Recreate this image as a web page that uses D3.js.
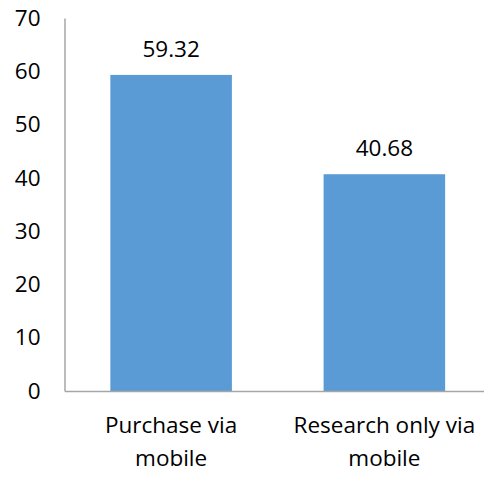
<!DOCTYPE html>
<html>
<head>
<meta charset="utf-8">
<script src="https://cdn.jsdelivr.net/npm/d3@7"></script>
<style>
  html, body { margin: 0; padding: 0; background: #fff; }
  svg text { font-family: "Open Sans", "DejaVu Sans", sans-serif; fill: #000; }
</style>
</head>
<body>
<svg id="chart" width="484" height="477"></svg>
<script>
// Share of mobile shoppers by behaviour
const categories = ["Purchase via mobile", "Research only via mobile"];
const categoryLines = [["Purchase via", "mobile"], ["Research only via", "mobile"]];
const values = [59.32, 40.68];
const yTicks = [0, 10, 20, 30, 40, 50, 60, 70];

const fontSize = 22.5;
const svg = d3.select("#chart");
const margin = { left: 64.5, top: 18, bottom: 391 };

const x = d3.scaleBand()
  .domain(categories)
  .range([margin.left, 491])
  .paddingInner(0.43)
  .paddingOuter(0.215);

const y = d3.scaleLinear()
  .domain([0, 70])
  .range([margin.bottom, margin.top]);

// Bars
svg.append("g")
  .selectAll("rect")
  .data(categories)
  .join("rect")
  .attr("x", d => x(d))
  .attr("width", x.bandwidth())
  .attr("y", (d, i) => y(values[i]))
  .attr("height", (d, i) => y(0) - y(values[i]))
  .attr("fill", "#5B9BD5");

// Y axis: line with labels, no tick marks
const yAxis = svg.append("g")
  .attr("transform", `translate(${margin.left},0)`)
  .call(d3.axisLeft(y).tickValues(yTicks).tickSize(0).tickPadding(24).tickFormat(d3.format("d")));
yAxis.select(".domain").attr("stroke", "#A6A6A6").attr("stroke-width", 1.5);
yAxis.selectAll("text")
  .attr("font-size", fontSize)
  .attr("font-family", "Open Sans, sans-serif")
  .attr("fill", "#000");

// X axis baseline
const xAxis = svg.append("g")
  .attr("transform", `translate(0,${y(0)})`)
  .call(d3.axisBottom(x).tickSize(0).tickFormat(""));
xAxis.select(".domain").attr("stroke", "#A6A6A6").attr("stroke-width", 1.5);

// Category labels on two lines
const catLabels = svg.append("g")
  .selectAll("text")
  .data(categories)
  .join("text")
  .attr("text-anchor", "middle")
  .attr("font-size", fontSize);
catLabels.each(function(d, i) {
  const t = d3.select(this);
  categoryLines[i].forEach((line, j) => {
    t.append("tspan")
      .attr("x", x(d) + x.bandwidth() / 2)
      .attr("y", y(0) + 42 + j * 33)
      .text(line);
  });
});

// Value labels above bars
svg.append("g")
  .selectAll("text")
  .data(categories)
  .join("text")
  .attr("text-anchor", "middle")
  .attr("font-size", fontSize)
  .attr("x", d => x(d) + x.bandwidth() / 2)
  .attr("y", (d, i) => y(values[i]) - 18)
  .text((d, i) => values[i].toFixed(2));
</script>
</body>
</html>
